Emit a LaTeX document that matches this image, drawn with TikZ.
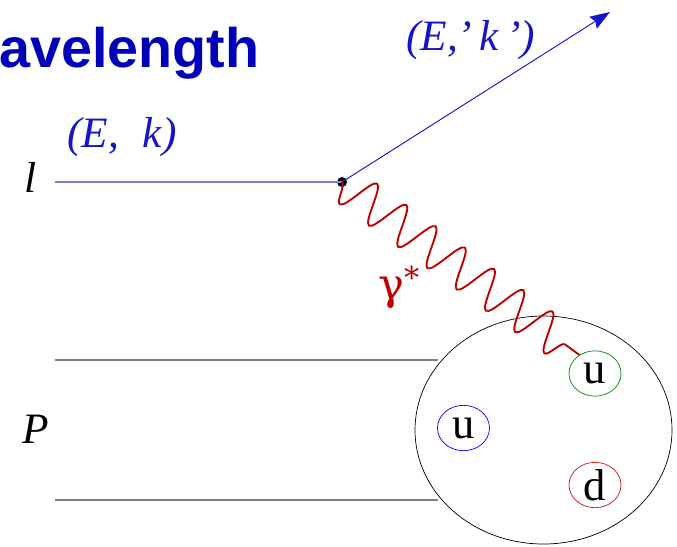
\documentclass[tikz,border=0pt]{standalone}
\usepackage{fontspec}
\setmainfont{Liberation Serif}
\newfontfamily\titlefont{Liberation Sans}
\newfontfamily\greekfont{DejaVu Serif}
\usetikzlibrary{arrows.meta,decorations.pathmorphing,shapes.geometric,positioning}
\definecolor{TitleBlue}{RGB}{0,0,185}
\definecolor{LeptonBlue}{RGB}{20,20,200}
\definecolor{PhotonRed}{RGB}{190,0,0}
\definecolor{QuarkGreen}{RGB}{0,140,0}
\definecolor{QuarkRed}{RGB}{200,20,20}
\definecolor{LineGray}{RGB}{128,128,128}

\begin{document}
\begin{tikzpicture}[x=0.03cm,y=-0.03cm,
  lbl/.style={inner sep=0pt,font=\fontsize{37}{42}\selectfont\itshape},
  quark/.style={ellipse,draw,line width=0.6pt,minimum width=1.56cm,minimum height=1.36cm,inner sep=0pt,font=\fontsize{38}{40}\selectfont},
  photon/.style={PhotonRed,line width=1.6pt,decorate,decoration={snake,segment length=1.085cm,amplitude=0.58cm,mirror}}
]
  \useasboundingbox (0,0) rectangle (677,546);
  % title fragment
  \node[anchor=base west,inner sep=0pt,text=TitleBlue,font=\titlefont\bfseries\fontsize{47.5}{50}\selectfont] (title) at (-1,67) {avelength};
  % lepton
  \node[lbl,anchor=base west] (lname) at (24,192) {l};
  \node[lbl,anchor=base west,text=LeptonBlue] (kin) at (67,147) {(E,\hspace{0.3em} k)};
  \node[lbl,anchor=base west,text=LeptonBlue] (kout) at (406,50) {(E,’\,k\,’)};
  \coordinate (lin) at (55,182);
  \coordinate (lout) at (610,12);
  \node[circle,fill=black,inner sep=0pt,minimum size=0.3cm] (v) at (342,182) {};
  \draw[LeptonBlue!55,line width=0.9pt] (lin) -- (v.center);
  \draw[LeptonBlue,line width=0.8pt,-{Stealth[length=6mm,width=4.2mm,inset=0.8mm]}] (v.center) -- (lout);
  % proton
  \node[ellipse,draw,line width=0.6pt,minimum width=7.71cm,minimum height=6.84cm,inner sep=0pt] (p) at (543.5,430) {};
  \node[lbl,anchor=base west] (pname) at (22,443) {P};
  \coordinate (pa1) at (55,360);
  \coordinate (pa2) at (438,360);
  \coordinate (pb1) at (55,500);
  \coordinate (pb2) at (438,500);
  \draw[LineGray,line width=1.7pt] (pa1) -- (pa2);
  \draw[LineGray,line width=1.7pt] (pb1) -- (pb2);
  % quarks
  \node[quark,QuarkGreen,text=black] (q1) at (595,373.5) {u};
  \node[quark,blue,text=black] (q2) at (463.5,428) {u};
  \node[quark,QuarkRed,text=black] (q3) at (595,485) {d};
  % virtual photon
  \draw[photon] (v.center) -- (q1.130);
  \node[inner sep=0pt,text=PhotonRed,font=\fontsize{37}{40}\selectfont,anchor=base west] (gam) at (378,299) {\greekfont γ\textsuperscript{*}};
\end{tikzpicture}
\end{document}
